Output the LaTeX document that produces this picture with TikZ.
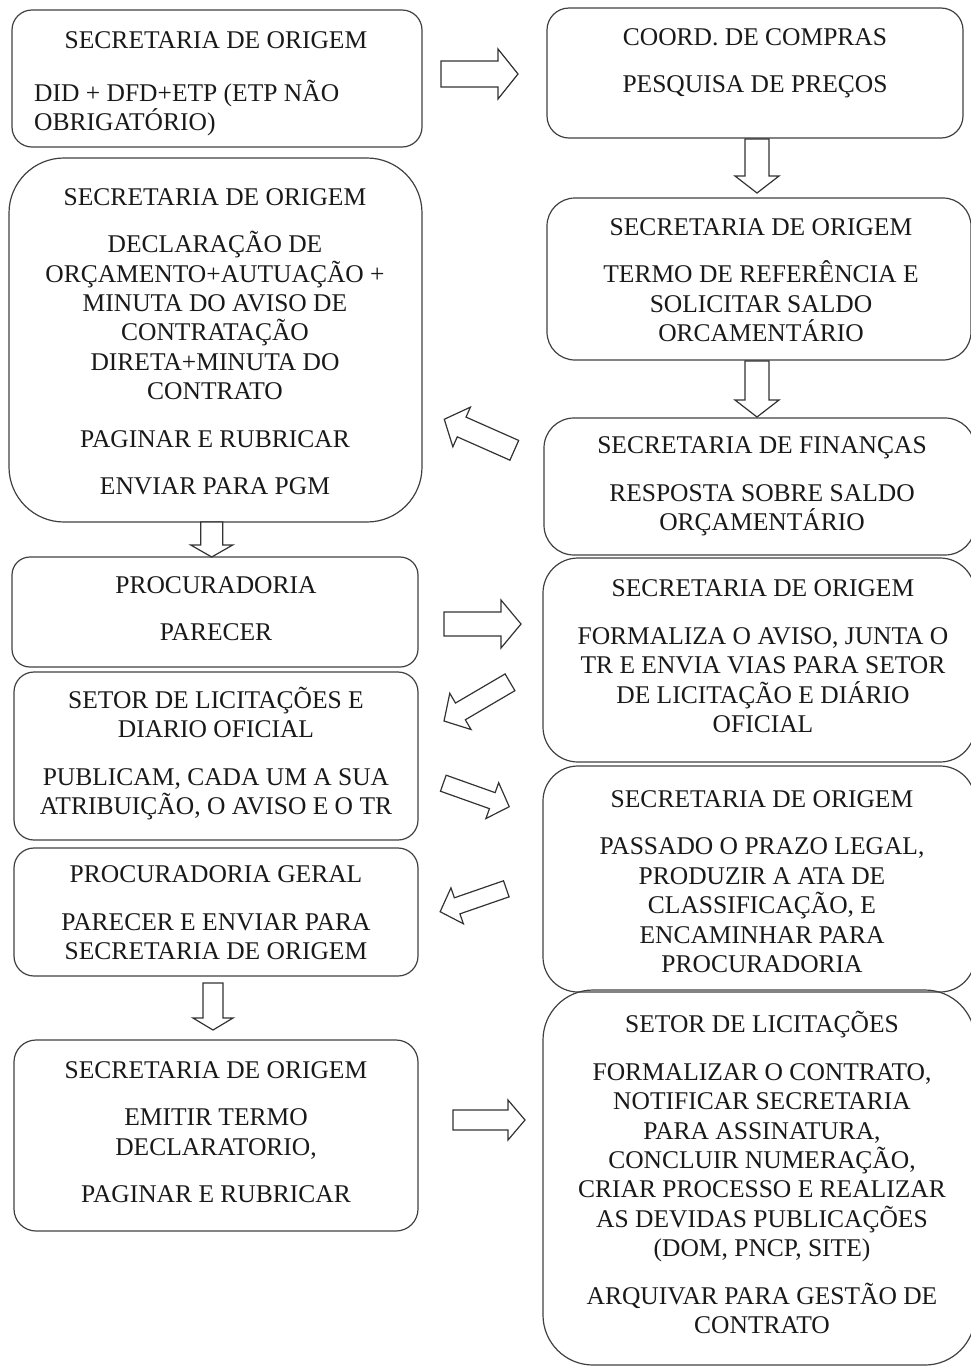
\documentclass[tikz,border=0pt]{standalone}
\usepackage{fontspec}
\setmainfont{Liberation Serif}
\usetikzlibrary{positioning}

\tikzset{
  box/.style={draw=black!75, line width=1.2pt, rounded corners=#1, inner sep=0pt},
  box/.default=20pt,
  txt/.style={align=center, inner sep=0pt, text=black!90, font=\fontsize{25.5}{29.4}\selectfont},
  blockarrow/.style={draw=black!80, line width=1.2pt, fill=white, line join=miter},
  % hollow block arrow: length, half shaft, half head, head length
  pics/barrow/.style n args={4}{code={
    \draw[blockarrow] (0,-#2) -- ({#1-#4},-#2) -- ({#1-#4},-#3) -- (#1,0)
      -- ({#1-#4},#3) -- ({#1-#4},#2) -- (0,#2) -- cycle;
  }},
}

\begin{document}
\begin{tikzpicture}[x=1pt,y=-1pt]
\useasboundingbox (0,0) rectangle (971,1369);

% left column boxes
\node[box=20pt, minimum width=410pt, minimum height=137pt] (orig1) at (217,78.5) {};
\node[box=55pt, minimum width=413pt, minimum height=364pt] (orig2) at (215.5,340) {};
\node[box=18pt, minimum width=406pt, minimum height=110pt] (proc1) at (215,612) {};
\node[box=20pt, minimum width=404pt, minimum height=168pt] (licdo) at (216,756) {};
\node[box=20pt, minimum width=404pt, minimum height=128pt] (procg) at (216,912) {};
\node[box=22pt, minimum width=404pt, minimum height=191pt] (orig6) at (216,1135.5) {};

% right column boxes
\node[box=22pt, minimum width=416pt, minimum height=130pt] (compras) at (755,73) {};
\node[box=28pt, minimum width=424pt, minimum height=162pt] (orig3) at (759,279) {};
\node[box=30pt, minimum width=431pt, minimum height=137pt] (financ) at (759.5,486.5) {};
\node[box=35pt, minimum width=432pt, minimum height=204pt] (orig4) at (759,660) {};
\node[box=35pt, minimum width=432pt, minimum height=226pt] (orig5) at (759,879) {};
\node[box=50pt, minimum width=432pt, minimum height=375pt] (licit) at (759,1177.5) {};

% texts, left (base = last line)
\node[txt, anchor=base] (orig1t) at (216,48.5) {SECRETARIA DE ORIGEM};
\node[txt, align=left, anchor=base west] (orig1b) at (34,130.5) {DID + DFD+ETP (ETP NÃO\\OBRIGATÓRIO)};
\node[txt, anchor=base] (orig2t) at (215,494.5) {SECRETARIA DE ORIGEM\\[18pt]
  DECLARAÇÃO DE\\ ORÇAMENTO+AUTUAÇÃO +\\ MINUTA DO AVISO DE\\ CONTRATAÇÃO\\
  DIRETA+MINUTA DO\\ CONTRATO\\[18pt] PAGINAR E RUBRICAR\\[18pt] ENVIAR PARA PGM};
\node[txt, anchor=base] (proc1t) at (216,640.5) {PROCURADORIA\\[18pt] PARECER};
\node[txt, anchor=base] (licdot) at (216,814.5) {SETOR DE LICITAÇÕES E\\ DIARIO OFICIAL\\[18pt]
  PUBLICAM, CADA UM A SUA\\ ATRIBUIÇÃO, O AVISO E O TR};
\node[txt, anchor=base] (procgt) at (216,959.5) {PROCURADORIA GERAL\\[18pt]
  PARECER E ENVIAR PARA\\ SECRETARIA DE ORIGEM};
\node[txt, anchor=base] (orig6t) at (216,1202.5) {SECRETARIA DE ORIGEM\\[18pt]
  EMITIR TERMO\\ DECLARATORIO,\\[18pt] PAGINAR E RUBRICAR};

% texts, right
\node[txt, anchor=base] (comprast) at (755,92.5) {COORD. DE COMPRAS\\[18pt] PESQUISA DE PREÇOS};
\node[txt, anchor=base] (orig3t) at (761,341.5) {SECRETARIA DE ORIGEM\\[18pt]
  TERMO DE REFERÊNCIA E\\ SOLICITAR SALDO\\ ORCAMENTÁRIO};
\node[txt, anchor=base] (financt) at (762,530.5) {SECRETARIA DE FINANÇAS\\[18pt]
  RESPOSTA SOBRE SALDO\\ ORÇAMENTÁRIO};
\node[txt, anchor=base] (orig4t) at (763,732.5) {SECRETARIA DE ORIGEM\\[18pt]
  FORMALIZA O AVISO, JUNTA O\\ TR E ENVIA VIAS PARA SETOR\\ DE LICITAÇÃO E DIÁRIO\\ OFICIAL};
\node[txt, anchor=base] (orig5t) at (762,972.5) {SECRETARIA DE ORIGEM\\[18pt]
  PASSADO O PRAZO LEGAL,\\ PRODUZIR A ATA DE\\ CLASSIFICAÇÃO, E\\ ENCAMINHAR PARA\\ PROCURADORIA};
\node[txt, anchor=base] (licitt) at (762,1333.5) {SETOR DE LICITAÇÕES\\[18pt]
  FORMALIZAR O CONTRATO,\\ NOTIFICAR SECRETARIA\\ PARA ASSINATURA,\\ CONCLUIR NUMERAÇÃO,\\
  CRIAR PROCESSO E REALIZAR\\ AS DEVIDAS PUBLICAÇÕES\\ (DOM, PNCP, SITE)\\[18pt]
  ARQUIVAR PARA GESTÃO DE\\ CONTRATO};

% block arrows
\pic at (441,74) {barrow={77}{13}{25}{20}};
\pic[rotate=-90] at (757,139) {barrow={54}{12}{22}{17}};
\pic[rotate=-90] at (757,361) {barrow={56}{12}{22}{17}};
\pic[rotate=156.1] at (514.3,450.3) {barrow={76.6}{10.8}{21.7}{19}};
\pic[rotate=-90] at (211.7,522) {barrow={35}{11}{21}{12}};
\pic at (444,624) {barrow={77}{12}{24}{20}};
\pic[rotate=210.4] at (510,682.3) {barrow={76.5}{9.7}{21}{19}};
\pic[rotate=-19.6] at (443.3,783.2) {barrow={70}{8.5}{19}{18}};
\pic[rotate=199.1] at (506.3,888.8) {barrow={70}{8.5}{19}{18}};
\pic[rotate=-90] at (213,983) {barrow={47}{10}{20}{12}};
\pic at (453,1120) {barrow={72}{10}{20}{17}};

\end{tikzpicture}
\end{document}
